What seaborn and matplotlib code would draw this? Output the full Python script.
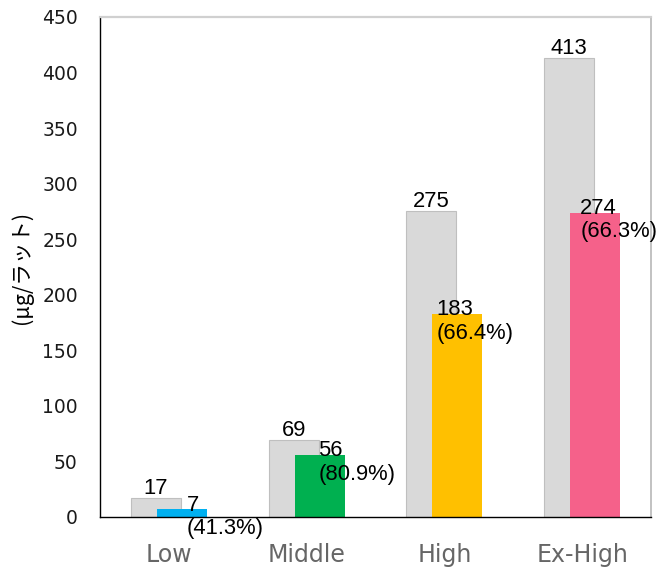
import numpy as np
import pandas as pd
import matplotlib
matplotlib.use("Agg")
import matplotlib.pyplot as plt
import seaborn as sns

# Dose groups and amounts (μg per rat)
levels = ["Low", "Middle", "High", "Ex-High"]
total = [17, 69, 275, 413]
absorbed = [7, 56, 183, 274]
ratio_pct = [41.3, 80.9, 66.4, 66.3]
bar_colors = ["#00b0f0", "#00b050", "#ffc000", "#f5618a"]
y_ticks = [0, 50, 100, 150, 200, 250, 300, 350, 400, 450]

sns.set_style("white")
plt.rcParams["font.family"] = ["DejaVu Sans", "Noto Sans CJK JP"]

BAR_W = 0.363
SHIFT = 0.094
# where each two-line label starts, measured from the left edge of its coloured bar
label_dx = [0.218, 0.174, 0.029, 0.073]

pos = np.arange(len(levels), dtype=float)
df = pd.DataFrame({"level": levels, "pos": pos, "total": total,
                   "absorbed": absorbed})
df["x_total"] = df["pos"] - SHIFT
df["x_abs"] = df["pos"] + SHIFT

fig = plt.figure(figsize=(6.59, 5.71), dpi=100)
ax = fig.add_axes([100 / 659, 1 - 517 / 571, 551 / 659, 500 / 571])

sns.barplot(data=df, x="x_total", y="total", native_scale=True, width=BAR_W,
            color="#d9d9d9", edgecolor="#bfbfbf", linewidth=0.8,
            errorbar=None, ax=ax, saturation=1)
sns.barplot(data=df, x="x_abs", y="absorbed", hue="level", hue_order=levels,
            palette=bar_colors, native_scale=True, width=BAR_W, dodge=False,
            linewidth=0, errorbar=None, legend=False, ax=ax, saturation=1)

lab_font = dict(family="Liberation Sans", size=15.8, color="black")
for i in range(len(levels)):
    ax.annotate(f"{total[i]}", (df["x_total"][i], total[i]),
                xytext=(0, 3), textcoords="offset points",
                ha="center", va="baseline", annotation_clip=False, **lab_font)
    left = df["x_abs"][i] - BAR_W / 2 + label_dx[i]
    ax.annotate(f"{absorbed[i]}\n({ratio_pct[i]:.1f}%)", (left, absorbed[i]),
                xytext=(0, -5.5), textcoords="offset points",
                ha="left", va="center", multialignment="left",
                linespacing=1.15, annotation_clip=False, **lab_font)

ax.set_xlim(-0.5, len(levels) - 0.5)
ax.set_ylim(0, 450)
ax.set_yticks(y_ticks)
ax.set_xticks(pos)
ax.set_xticklabels(levels, fontsize=17, color="#666666")
ax.set_xlabel("")
ax.tick_params(axis="x", length=0, pad=19)
ax.tick_params(axis="y", direction="in", length=4.3, width=0.8,
               color="black", labelsize=13.5, labelcolor="#1a1a1a", pad=16)

ax.set_ylabel("(μg/ラット)", fontsize=15.5, color="black",
              family=["Noto Sans CJK JP", "DejaVu Sans"],
              ha="center", va="center")
ax.yaxis.set_label_coords(-0.1416, 0.5)

for side in ("left", "bottom"):
    ax.spines[side].set_color("black")
    ax.spines[side].set_linewidth(1.0)
for side in ("top", "right"):
    ax.spines[side].set_color("#d0d0d0")
    ax.spines[side].set_linewidth(1.6)
ax.spines["right"].set_color("#b8b8b8")
ax.spines["right"].set_linewidth(1.2)

fig.savefig("out.png", dpi=100)
